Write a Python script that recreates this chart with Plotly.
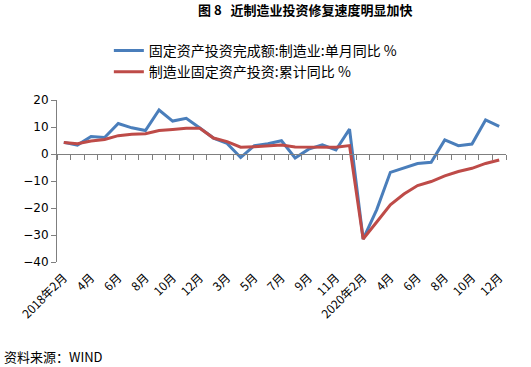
import plotly.graph_objects as go

months = ["2018年2月", "3月", "4月", "5月", "6月", "7月", "8月", "9月", "10月", "11月", "12月",
          "2019年2月", "3月", "4月", "5月", "6月", "7月", "8月", "9月", "10月", "11月", "12月",
          "2020年2月", "3月", "4月", "5月", "6月", "7月", "8月", "9月", "10月", "11月", "12月"]
tick_labels = ["2018年2月", "", "4月", "", "6月", "", "8月", "", "10月", "", "12月",
               "", "3月", "", "5月", "", "7月", "", "9月", "", "11月", "",
               "2020年2月", "", "4月", "", "6月", "", "8月", "", "10月", "", "12月"]
monthly = [4.3, 3.3, 6.5, 6.1, 11.3, 9.7, 8.7, 16.3, 12.2, 13.2, 9.6,
           5.9, 3.9, -1.3, 3.1, 3.8, 4.9, -1.5, 1.8, 3.4, 1.5, 9.2,
           -31.5, -20.6, -6.8, -5.2, -3.5, -3.1, 5.2, 3.1, 3.7, 12.6, 10.2]
cumulative = [4.3, 3.8, 4.8, 5.4, 6.8, 7.3, 7.5, 8.7, 9.1, 9.5, 9.5,
              5.9, 4.6, 2.5, 2.7, 3.0, 3.3, 2.6, 2.5, 2.6, 2.5, 3.1,
              -31.5, -25.2, -18.8, -14.8, -11.7, -10.2, -8.1, -6.5, -5.3, -3.5, -2.2]
names = ["固定资产投资完成额:制造业:单月同比 %", "制造业固定资产投资:累计同比 %"]

idx = list(range(len(months)))
font_cjk = "Noto Sans CJK SC, DejaVu Sans, sans-serif"

fig = go.Figure()
fig.add_trace(go.Scatter(x=idx, y=monthly, mode="lines", name=names[0],
                         line=dict(color="#4A7EBB", width=3), hoverinfo="skip"))
fig.add_trace(go.Scatter(x=idx, y=cumulative, mode="lines", name=names[1],
                         line=dict(color="#BE4B48", width=3), hoverinfo="skip"))
# helper trace so the zero-line axis (x2) is drawn
fig.add_trace(go.Scatter(x=idx, y=cumulative, mode="lines", xaxis="x2", showlegend=False,
                         line=dict(width=0), opacity=0, hoverinfo="skip"))

rng = [-0.5, len(months) - 0.5]
fig.update_layout(
    width=531, height=367,
    margin=dict(l=57, r=25, t=100, b=105, autoexpand=False),
    paper_bgcolor="white", plot_bgcolor="white",
    font=dict(family=font_cjk, color="black", size=12),
    title=dict(text="<b>图 8\u00a0\u00a0\u00a0近制造业投资修复速度明显加快</b>", x=0.575, xanchor="center",
               y=0.972, yanchor="middle", font=dict(size=13, family=font_cjk, color="black")),
    showlegend=True,
    legend=dict(xref="container", yref="container", x=0.205, xanchor="left", y=0.905, yanchor="top",
                font=dict(size=14, family=font_cjk, color="black"),
                bgcolor="rgba(0,0,0,0)", tracegroupgap=0, itemwidth=30),
    xaxis=dict(range=rng, tickmode="array", tickvals=idx, ticktext=tick_labels,
               tickangle=-45, showline=False, showgrid=False, zeroline=False,
               ticks="outside", ticklen=3, tickcolor="rgba(0,0,0,0)",
               tickfont=dict(size=12, family=font_cjk, color="black"), automargin=False),
    xaxis2=dict(range=rng, overlaying="x", anchor="free", position=40/60,
                tickmode="array", tickvals=[i - 0.5 for i in range(len(months) + 1)],
                showticklabels=False, showline=True, linecolor="#7F7F7F", linewidth=1,
                ticks="outside", ticklen=5, tickcolor="#7F7F7F", showgrid=False, zeroline=False),
    yaxis=dict(range=[-40, 20], tickvals=[-40, -30, -20, -10, 0, 10, 20], showgrid=False,
               zeroline=False, showline=True, linecolor="#7F7F7F", linewidth=1,
               ticks="outside", ticklen=5, tickcolor="#7F7F7F", automargin=False,
               tickfont=dict(size=12, family="DejaVu Sans, sans-serif", color="black")),
)
fig.add_annotation(text="资料来源：WIND", xref="paper", yref="paper", x=-0.122, xanchor="left",
                   y=-0.585, yanchor="middle", showarrow=False,
                   font=dict(size=13, family=font_cjk, color="black"))
fig.write_html("out.html", config={"displayModeBar": False},
               post_script="document.body.style.margin='0';")
